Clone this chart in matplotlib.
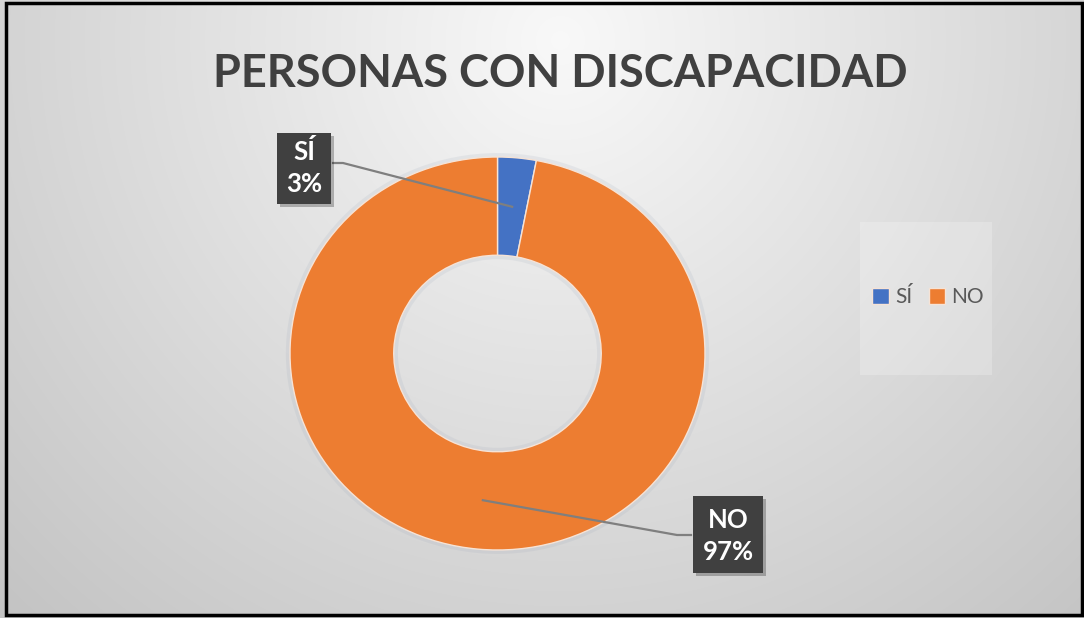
import numpy as np
import matplotlib
matplotlib.use("Agg")
import matplotlib.pyplot as plt
from matplotlib.patches import Rectangle
from matplotlib.lines import Line2D

# ---- data ----
categories = ["SÍ", "NO"]
values = [3, 97]
percent_labels = ["3%", "97%"]
colors = ["#4472C4", "#ED7D31"]
title = "PERSONAS CON DISCAPACIDAD"

W, H = 1084, 618
fig = plt.figure(figsize=(W / 100, H / 100), dpi=100)


def px(x, y):
    """image pixel coords (y from top) -> figure fraction"""
    return (x / W, (H - y) / H)


# ---- background radial gradient ----
bg = fig.add_axes([0, 0, 1, 1], zorder=-5)
yy, xx = np.mgrid[0:H, 0:W]
d = np.sqrt((xx - 560) ** 2 + (yy - 40) ** 2)
g = np.clip(0.975 - 0.21 * d / 805, 0, 1)
bg.imshow(np.dstack([g, g, g]), extent=[0, W, H, 0], aspect="auto")
bg.set_xlim(0, W)
bg.set_ylim(H, 0)
bg.set_axis_off()

# frame
fig.add_artist(Rectangle(px(6, 615), 1076 / W, 612 / H, transform=fig.transFigure,
                         fill=False, edgecolor="black", linewidth=2.5, zorder=10))

# ---- donut ----
l, b = px(290, 550)
ax = fig.add_axes([l, b, 415 / W, 393 / H])
ax.patch.set_alpha(0)

# soft shadow
ax.pie([1], colors=["#9aa6b8"], radius=1.02, startangle=90,
       wedgeprops=dict(width=0.54, alpha=0.15, linewidth=0))
wedges, _ = ax.pie(values, colors=colors, startangle=90, counterclock=False, radius=1.0,
                   wedgeprops=dict(width=0.5, edgecolor="#f6e3d6", linewidth=1.0))
ax.set_aspect("auto")
ax.set_xlim(-1, 1)
ax.set_ylim(-1, 1)
ax.set_axis_off()

# ---- title ----
fig.text(*px(560, 74), title, ha="center", va="center", fontsize=32.5,
         fontweight="bold", family=["Lato", "DejaVu Sans"], color="#404040")

# ---- data labels ----
boxes = [
    dict(x0=277, y0=133, x1=331, y1=204, elbow=[(333, 163), (343, 163)], tc=(304, 167)),
    dict(x0=693, y0=496, x1=763, y1=573, elbow=[(691, 535), (677, 535)], tc=(728, 536)),
]

for w, cat, pct, bx in zip(wedges, categories, percent_labels, boxes):
    mid = np.deg2rad((w.theta1 + w.theta2) / 2)
    r = 0.75
    ax_disp = ax.transData.transform((r * np.cos(mid), r * np.sin(mid)))
    ax_fig = fig.transFigure.inverted().transform(ax_disp)
    pts = [px(*p) for p in bx["elbow"]] + [tuple(ax_fig)]
    fig.add_artist(Line2D([p[0] for p in pts], [p[1] for p in pts],
                          transform=fig.transFigure, color="#7f7f7f", linewidth=1.6, zorder=4))
    # shadow
    sx, sy = px(bx["x0"] + 3, bx["y1"] + 3)
    fig.add_artist(Rectangle((sx, sy), (bx["x1"] - bx["x0"]) / W, (bx["y1"] - bx["y0"]) / H,
                             transform=fig.transFigure, facecolor="black", alpha=0.25,
                             linewidth=0, zorder=5))
    rx, ry = px(bx["x0"], bx["y1"])
    fig.add_artist(Rectangle((rx, ry), (bx["x1"] - bx["x0"]) / W, (bx["y1"] - bx["y0"]) / H,
                             transform=fig.transFigure, facecolor="#404040",
                             linewidth=0, zorder=6))
    fig.text(*px(*bx["tc"]), f"{cat}\n{pct}", ha="center", va="center", fontsize=18.5,
             fontweight="bold", family=["Lato", "DejaVu Sans"], color="white",
             linespacing=1.4, zorder=7)

# ---- legend ----
lx, ly = px(860, 375)
fig.add_artist(Rectangle((lx, ly), 132 / W, 153 / H, transform=fig.transFigure,
                         facecolor="white", alpha=0.22, linewidth=0, zorder=1))
fig.legend(wedges, categories, loc="center", bbox_to_anchor=px(928, 297), ncol=2,
           frameon=False, handlelength=0.8, handleheight=0.8, handletextpad=0.3,
           columnspacing=0.8, prop=dict(family=["Lato", "DejaVu Sans"], size=15),
           labelcolor="#595959")

fig.savefig("out.png", dpi=100)
